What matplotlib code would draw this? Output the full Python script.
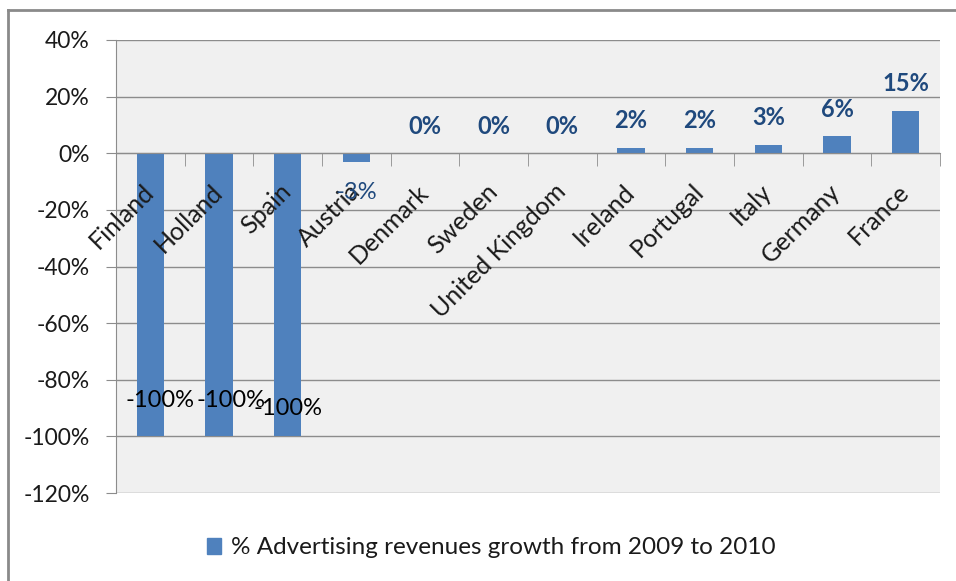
import matplotlib.pyplot as plt
from matplotlib.lines import Line2D
from matplotlib.patches import Patch
import numpy as np

# Advertising revenue growth per country, 2009 -> 2010 (in %)
countries = ["Finland", "Holland", "Spain", "Austria", "Denmark", "Sweden",
             "United Kingdom", "Ireland", "Portugal", "Italy", "Germany", "France"]
growth = [-100, -100, -100, -3, 0, 0, 0, 2, 2, 3, 6, 15]
y_ticks = [40, 20, 0, -20, -40, -60, -80, -100, -120]

bar_color = "#4f81bd"
label_blue = "#1f497d"
grid_color = "#8c8c8c"
text_color = "#1a1a1a"

plt.rcParams["font.family"] = ["Lato", "DejaVu Sans"]

fig = plt.figure(figsize=(9.56, 5.81), dpi=100)
ax = fig.add_axes([116 / 956, 1 - 493 / 581, 824 / 956, 453 / 581])
ax.set_facecolor("#f0f0f0")

x = np.arange(len(countries))
bars = ax.bar(x, growth, width=0.4, color=bar_color, zorder=2)

ax.set_xlim(-0.5, len(countries) - 0.5)
ax.set_ylim(-120, 40)
ax.set_yticks(y_ticks)
ax.set_yticklabels([f"{t}%" for t in y_ticks])
ax.yaxis.grid(True, color=grid_color, linewidth=1)
ax.set_axisbelow(True)
# country names are written over the bars
ax.xaxis.set_zorder(4)

# category axis sits on the zero line, ticks between categories
ax.spines["bottom"].set_position(("data", 0))
ax.spines["bottom"].set_color(grid_color)
ax.spines["bottom"].set_zorder(3)
ax.spines["left"].set_color(grid_color)
ax.spines["top"].set_visible(False)
ax.spines["right"].set_visible(False)

ax.set_xticks(x)
ax.set_xticklabels(countries, rotation=45, ha="right", va="center",
                   rotation_mode="anchor", fontsize=18, color=text_color)
ax.tick_params(axis="x", length=0, pad=25)
ax.set_xticks(np.arange(len(countries) + 1) - 0.5, minor=True)
ax.tick_params(axis="x", which="minor", length=9, color=grid_color, direction="out")
ax.tick_params(axis="y", length=7, color=grid_color, pad=12,
               labelsize=16.5, labelcolor=text_color)

# value labels
neg_offsets = [(7, 26), (9, 26), (0, 20)]
for i, v in enumerate(growth):
    if v <= -100:
        dx, dy = neg_offsets[i]
        ax.annotate(f"{v}%", (x[i], v), xytext=(dx, dy), textcoords="offset points",
                    ha="center", va="center", fontsize=17, color="black", zorder=5)
    elif v < 0:
        ax.annotate(f"{v}%", (x[i], v), xytext=(0, -22), textcoords="offset points",
                    ha="center", va="center", fontsize=17, color=label_blue, zorder=5)
    else:
        ax.annotate(f"{v}%", (x[i], v), xytext=(0, 19.5), textcoords="offset points",
                    ha="center", va="center", fontsize=17, fontweight="bold",
                    color=label_blue, zorder=5)

# chart frame
fig.add_artist(Line2D([7.5 / 956, 7.5 / 956], [0, 1 - 10 / 581],
                      transform=fig.transFigure, color="#8a8a8a", linewidth=2))
fig.add_artist(Line2D([7.5 / 956, 1], [1 - 10 / 581, 1 - 10 / 581],
                      transform=fig.transFigure, color="#8a8a8a", linewidth=2))

fig.legend(handles=[Patch(color=bar_color,
                          label="% Advertising revenues growth from 2009 to 2010")],
           loc="center", bbox_to_anchor=(491 / 956, 1 - 548 / 581), frameon=False,
           fontsize=17.5, handlelength=0.6, handleheight=0.6, handletextpad=0.4,
           labelcolor=text_color)

fig.savefig("out.png", dpi=100)
